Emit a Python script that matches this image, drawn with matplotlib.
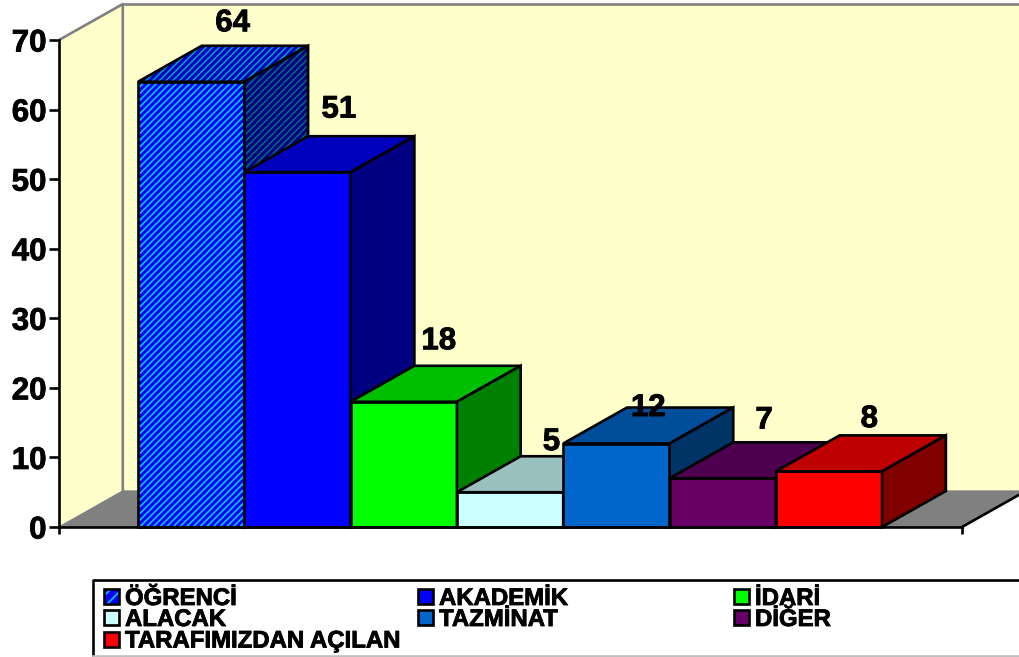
import matplotlib
matplotlib.use("Agg")
import matplotlib.pyplot as plt
import matplotlib.patheffects as pe
from matplotlib.colors import to_rgb
from matplotlib.patches import Polygon, Rectangle

plt.rcParams["font.family"] = ["Liberation Sans", "DejaVu Sans"]
plt.rcParams["font.weight"] = "bold"
plt.rcParams["hatch.linewidth"] = 1.2

categories = ["ÖĞRENCİ", "AKADEMİK", "İDARİ", "ALACAK", "TAZMİNAT", "DİĞER", "TARAFIMIZDAN AÇILAN"]
values = [64, 51, 18, 5, 12, 7, 8]
colors = ["#0066FF", "#0000FF", "#00FF00", "#CCFFFF", "#0066CC", "#660066", "#FF0000"]
y_ticks = [0, 10, 20, 30, 40, 50, 60, 70]

# 3d look, in data units
depth_x = 0.6
depth_y = 5.17
# label nudges, the original labels are not placed evenly
label_dx = [0.39, 0.39, 0.33, 0.39, 0.30, 0.39, 0.38]
label_dy = [8.4, 9.0, 8.7, 7.2, 5.1, 8.3, 7.5]

W, H = 1019, 657
LW = 1.9
bold_edge = [pe.withStroke(linewidth=0.6, foreground="black")]

fig = plt.figure(figsize=(W / 100, H / 100), dpi=100, facecolor="white")
ax = fig.add_axes([59 / W, (H - 527) / H, 903 / W, 487 / H])
ax.patch.set_visible(False)
x_left = -79 / 106.3
x_right = x_left + 903 / 106.3
ax.set_xlim(x_left, x_right)
ax.set_ylim(0, 70)


def poly(pts, fc, ec="black", lw=LW, z=2, **kw):
    p = Polygon(pts, closed=True, facecolor=fc, edgecolor=ec, linewidth=lw,
                zorder=z, clip_on=False, joinstyle="miter", **kw)
    ax.add_patch(p)
    return p


def shade(col, f):
    return tuple(c * f for c in to_rgb(col))


# walls and floor
wall = "#FFFFCC"
top = 70 + depth_y
poly([(x_left, 0), (x_left, 70), (x_left + depth_x, top), (x_left + depth_x, depth_y)], wall, ec="none")
poly([(x_left + depth_x, depth_y), (x_left + depth_x, top), (x_right + depth_x, top), (x_right + depth_x, depth_y)], wall, ec="none")
poly([(x_left, 0), (x_left + depth_x, depth_y), (x_right + depth_x, depth_y), (x_right, 0)], "#808080", ec="none")
ax.plot([x_left, x_left + depth_x, x_left + depth_x], [70, top, depth_y], color="#808080", lw=LW, clip_on=False, zorder=2)
ax.plot([x_left + depth_x, x_right + depth_x], [top, top], color="#808080", lw=LW, clip_on=False, zorder=2)
ax.plot([x_left, x_left + depth_x, x_right + depth_x], [0, depth_y, depth_y], color="#808080", lw=1, clip_on=False, zorder=2)
ax.plot([x_right, x_right + depth_x], [0, depth_y], color="black", lw=LW, clip_on=False, zorder=2)

# bars, left to right so each one covers the side of the one before
for i, (v, c) in enumerate(zip(values, colors)):
    z = 3 + i
    x0, x1 = i, i + 1
    front = [(x0, 0), (x0, v), (x1, v), (x1, 0)]
    roof = [(x0, v), (x0 + depth_x, v + depth_y), (x1 + depth_x, v + depth_y), (x1, v)]
    side = [(x1, 0), (x1, v), (x1 + depth_x, v + depth_y), (x1 + depth_x, depth_y)]
    if i == 0:
        # first bar has the striped fill
        poly(front, "#0000FF", ec="#00CCFF", lw=0, z=z, hatch="/////")
        poly(roof, "#0000BF", ec="#0099BF", lw=0, z=z, hatch="/////")
        poly(side, "#000080", ec="#006680", lw=0, z=z, hatch="/////")
        for pts in (front, roof, side):
            poly(pts, "none", z=z)
    else:
        poly(front, c, z=z)
        poly(roof, shade(c, 0.75), z=z)
        poly(side, shade(c, 0.5), z=z)

for i, v in enumerate(values):
    ax.text(i + 0.5 + label_dx[i], v + label_dy[i], str(v), ha="center", va="center",
            fontsize=22.5, fontweight="bold", color="black", zorder=20, clip_on=False,
            path_effects=bold_edge)

for s in ("top", "right"):
    ax.spines[s].set_visible(False)
for s in ("left", "bottom"):
    ax.spines[s].set_linewidth(LW)
    ax.spines[s].set_zorder(15)
ax.set_yticks(y_ticks)
ax.set_xticks([x_left, x_right])
ax.set_xticklabels([])
ax.tick_params(axis="y", length=7, width=LW, labelsize=22.5, pad=2)
ax.tick_params(axis="x", length=5, width=LW)
for t in ax.get_yticklabels():
    t.set_path_effects(bold_edge)

# legend, in pixel coordinates because the box runs off the figure
lax = fig.add_axes([0, 0, 1, 1])
lax.set_xlim(0, W)
lax.set_ylim(H, 0)
lax.axis("off")
lax.plot([1019, 93, 93], [580, 580, 657], color="black", lw=LW)
lax.plot([93, 1019], [656, 656], color="#C0C0C0", lw=LW)
col_x = [104, 418, 734]
row_y = [596.5, 617.5, 639]
slots = [(0, 0), (1, 0), (2, 0), (0, 1), (1, 1), (2, 1), (0, 2)]
for name, c, (cx, ry) in zip(categories, colors, slots):
    if name == categories[0]:
        lax.add_patch(Rectangle((col_x[cx], row_y[ry] - 7.5), 15, 15, facecolor="#0000FF", edgecolor="#00CCFF",
                                linewidth=0, hatch="///"))
        r = Rectangle((col_x[cx], row_y[ry] - 7.5), 15, 15, facecolor="none", edgecolor="black", linewidth=LW)
    else:
        r = Rectangle((col_x[cx], row_y[ry] - 7.5), 15, 15, facecolor=c, edgecolor="black", linewidth=LW)
    lax.add_patch(r)
    lax.text(col_x[cx] + 21, row_y[ry] - 0.5, name, ha="left", va="center_baseline", fontsize=17.25,
             fontweight="bold", color="black", path_effects=bold_edge)

fig.savefig("out.png", dpi=100)
